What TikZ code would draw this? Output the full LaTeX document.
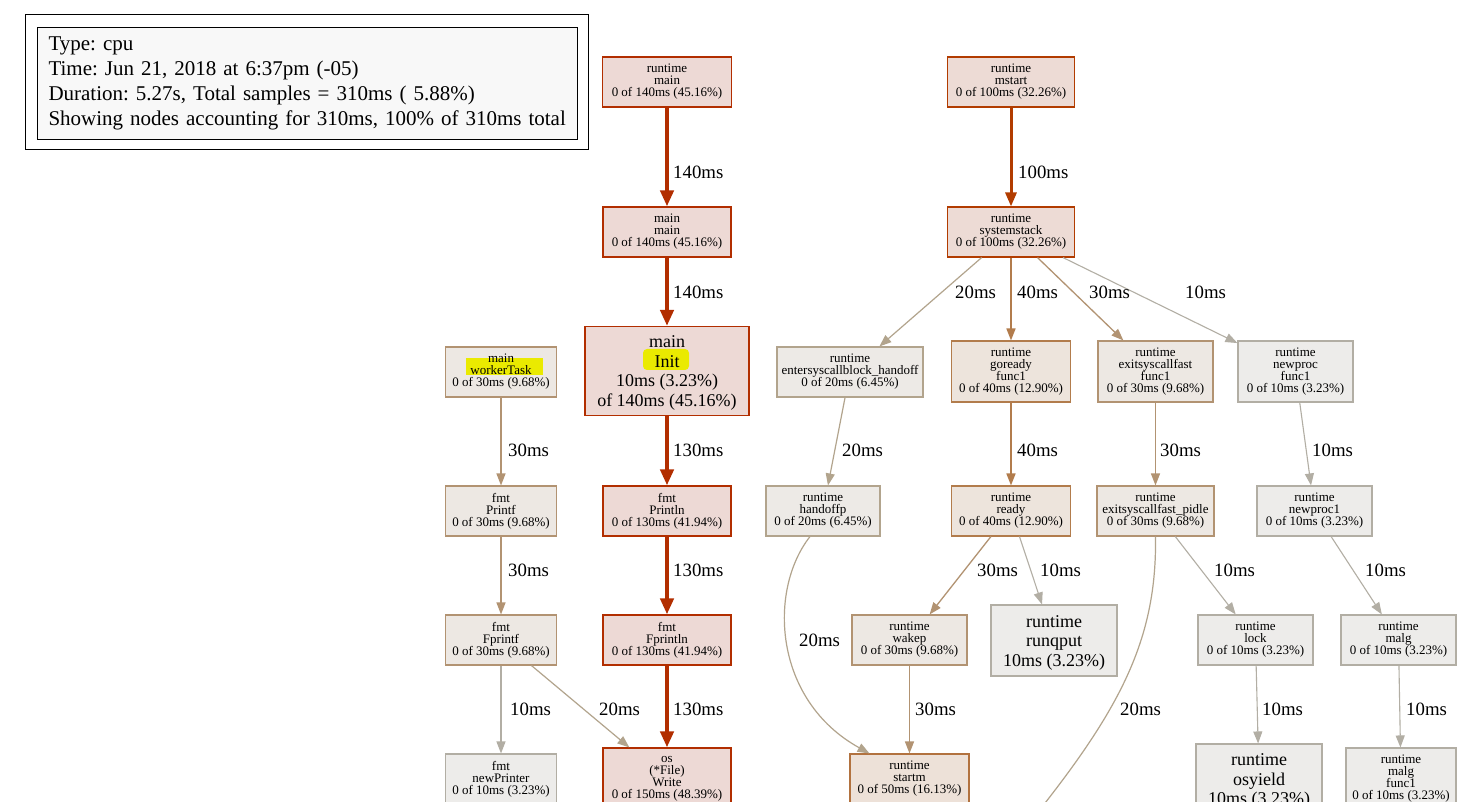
\documentclass[tikz,border=0pt]{standalone}
\usepackage{fontspec}
\setmainfont{Liberation Serif}
\usetikzlibrary{arrows.meta}
\frenchspacing
\definecolor{fA}{HTML}{EDD9D5}\definecolor{bA}{HTML}{B22E00}
\definecolor{fB}{HTML}{EDDBD5}\definecolor{bB}{HTML}{B23C00}
\definecolor{fS}{HTML}{EDE1D8}\definecolor{bS}{HTML}{B2723F}
\definecolor{fG}{HTML}{EDE4DC}\definecolor{bG}{HTML}{B27C4C}
\definecolor{fC}{HTML}{EDE8E3}\definecolor{bC}{HTML}{B29372}
\definecolor{fD}{HTML}{EDEAE6}\definecolor{bD}{HTML}{B2A48D}
\definecolor{fE}{HTML}{EDECEA}\definecolor{bE}{HTML}{B2AEA4}
\definecolor{hl}{HTML}{EAEA00}
\definecolor{lgfill}{HTML}{F8F8F8}
\newcommand{\topstrut}{\rule{0pt}{16pt}}
\tikzset{
  nd/.style={draw, rectangle, inner sep=0pt, align=center, line width=1.1pt,
    font=\fontsize{13}{12}\selectfont},
  bigtxt/.style={font=\fontsize{18}{19.5}\selectfont},
  sz/.style 2 args={minimum width=#1pt, minimum height=#2pt},
  cA/.style={fill=fA, draw=bA}, cB/.style={fill=fB, draw=bB},
  cS/.style={fill=fS, draw=bS}, cG/.style={fill=fG, draw=bG},
  cC/.style={fill=fC, draw=bC}, cD/.style={fill=fD, draw=bD},
  cE/.style={fill=fE, draw=bE},
  lbl/.style={anchor=west, inner sep=0pt, font=\fontsize{18.8}{18.8}\selectfont},
  thin/.style={-{Triangle[length=12pt,width=9pt]}},
  eA/.style={draw=bA, line width=4pt, -{Triangle[length=16pt,width=13pt]}},
  eB/.style={draw=bB, line width=3pt, -{Triangle[length=14pt,width=11pt]}},
  e40/.style={thin, draw=bG, line width=1.6pt},
  e30/.style={thin, draw=bC, line width=1.3pt},
  e20/.style={thin, draw=bD, line width=1.2pt},
  e10/.style={thin, draw=bE, line width=1.1pt},
}
\begin{document}
\begin{tikzpicture}[x=1pt,y=-1pt]
\useasboundingbox (0,0) rectangle (1476,802);
\clip (0,0) rectangle (1476,802);
\fill[white] (0,0) rectangle (1476,802);

% legend
\node[draw=black, fill=lgfill, line width=1pt, anchor=north west, minimum width=540pt,
  minimum height=112pt, text width=518pt, align=left, inner xsep=11pt, inner ysep=0pt,
  font=\fontsize{21}{25}\selectfont] (legend) at (37,27)
  {\mbox{Type: cpu}\\\mbox{Time: Jun 21, 2018 at 6:37pm (-05)}\\\mbox{Duration: 5.27s, Total samples = 310ms ( 5.88\%)}\\\mbox{Showing nodes accounting for 310ms, 100\% of 310ms total}};
\draw[line width=1pt] ([shift={(-12pt,12pt)}]legend.north west) rectangle ([shift={(10pt,-10pt)}]legend.south east);

% nodes
\node[nd,cA,sz={129}{50}] (rtmain) at (667,82) {runtime\\main\\0 of 140ms (45.16\%)};
\node[nd,cB,sz={127}{50}] (mstart) at (1011,82) {runtime\\mstart\\0 of 100ms (32.26\%)};
\node[nd,cA,sz={128}{50}] (mainmain) at (667,232) {main\\main\\0 of 140ms (45.16\%)};
\node[nd,cB,sz={127}{50}] (sysstack) at (1011,232) {runtime\\systemstack\\0 of 100ms (32.26\%)};
\node[nd,cA,bigtxt,sz={164}{89},
  path picture={\fill[hl, rounded corners=4pt] ([shift={(-24pt,1pt)}]path picture bounding box.center) rectangle ([shift={(22pt,22pt)}]path picture bounding box.center);}]
  (init) at (667,371) {\topstrut main\\Init\\10ms (3.23\%)\\of 140ms (45.16\%)};
\node[nd,cC,sz={111}{50},
  path picture={\fill[hl] ([shift={(-35pt,-3pt)}]path picture bounding box.center) rectangle ([shift={(42pt,14pt)}]path picture bounding box.center);}]
  (worker) at (501,372) {main\\workerTask\\0 of 30ms (9.68\%)};
\node[nd,cD,sz={146}{50}] (enters) at (850,372) {runtime\\entersyscallblock\_handoff\\0 of 20ms (6.45\%)};
\node[nd,cG,sz={119}{61}] (goready) at (1011,371.5) {runtime\\goready\\func1\\0 of 40ms (12.90\%)};
\node[nd,cC,sz={115}{61}] (exitfast) at (1155.5,371.5) {runtime\\exitsyscallfast\\func1\\0 of 30ms (9.68\%)};
\node[nd,cE,sz={115}{61}] (newprocf) at (1295.5,371.5) {runtime\\newproc\\func1\\0 of 10ms (3.23\%)};
\node[nd,cC,sz={111}{50}] (printf) at (501,511) {fmt\\Printf\\0 of 30ms (9.68\%)};
\node[nd,cA,sz={128}{50}] (println) at (667,511) {fmt\\Println\\0 of 130ms (41.94\%)};
\node[nd,cD,sz={114}{50}] (handoffp) at (823,511) {runtime\\handoffp\\0 of 20ms (6.45\%)};
\node[nd,cG,sz={119}{50}] (ready) at (1011,511) {runtime\\ready\\0 of 40ms (12.90\%)};
\node[nd,cC,sz={117}{50}] (pidle) at (1155.5,511) {runtime\\exitsyscallfast\_pidle\\0 of 30ms (9.68\%)};
\node[nd,cE,sz={115}{50}] (newproc1) at (1314.5,511) {runtime\\newproc1\\0 of 10ms (3.23\%)};
\node[nd,cC,sz={111}{50}] (fprintf) at (501,640) {fmt\\Fprintf\\0 of 30ms (9.68\%)};
\node[nd,cA,sz={128}{50}] (fprintln) at (667,640) {fmt\\Fprintln\\0 of 130ms (41.94\%)};
\node[nd,cC,sz={115}{50}] (wakep) at (909.5,640) {runtime\\wakep\\0 of 30ms (9.68\%)};
\node[nd,cE,bigtxt,sz={126}{71}] (runqput) at (1054,640.5) {\topstrut runtime\\runqput\\10ms (3.23\%)};
\node[nd,cE,sz={115}{50}] (lock) at (1255.5,640) {runtime\\lock\\0 of 10ms (3.23\%)};
\node[nd,cE,sz={115}{50}] (malg) at (1398.5,640) {runtime\\malg\\0 of 10ms (3.23\%)};
\node[nd,cE,sz={111}{50}] (newprinter) at (501,779) {fmt\\newPrinter\\0 of 10ms (3.23\%)};
\node[nd,cA,sz={128}{62}] (write) at (667,779) {os\\(*File)\\Write\\0 of 150ms (48.39\%)};
\node[nd,cS,sz={119}{50}] (startm) at (909.5,779) {runtime\\startm\\0 of 50ms (16.13\%)};
\node[nd,cE,bigtxt,sz={126}{70}] (osyield) at (1259,779) {\topstrut runtime\\osyield\\10ms (3.23\%)};
\node[nd,cE,sz={110}{62}] (malgf) at (1401,779) {runtime\\malg\\func1\\0 of 10ms (3.23\%)};
\coordinate (offA) at (1030,822);

% edges
\draw[eA] (rtmain) -- (mainmain);
\draw[eA] (mainmain) -- (init);
\draw[eA] (init) -- (println);
\draw[eA] (println) -- (fprintln);
\draw[eA] (fprintln) -- (write);
\draw[eB] (mstart) -- (sysstack);
\draw[e20] (sysstack) -- (enters);
\draw[e40] (sysstack) -- (goready);
\draw[e30] (sysstack) -- (exitfast);
\draw[e10] (sysstack) -- (newprocf);
\draw[e30] (worker) -- (printf);
\draw[e30] (printf) -- (fprintf);
\draw[e10] (fprintf) -- (newprinter);
\draw[e20] (fprintf) -- (write);
\draw[e20] (enters) -- (handoffp);
\draw[e20] ([xshift=-13pt]handoffp.south) .. controls (768,590) and (773,700) .. ([xshift=-40pt]startm.north);
\draw[e40] (goready) -- (ready);
\draw[e30] (ready) -- (wakep);
\draw[e10] (ready) -- (runqput);
\draw[e30] (wakep) -- (startm);
\draw[e30] (exitfast) -- (pidle);
\draw[e10] (pidle) -- (lock);
\draw[draw=bD, line width=1.2pt] (pidle.south) .. controls (1157,640) and (1120,710) .. (offA);
\draw[e10] (newprocf) -- (newproc1);
\draw[e10] (newproc1) -- (malg);
\draw[e10] (lock) -- (osyield);
\draw[e10] (malg) -- (malgf);

% labels
\node[lbl] (l1) at (673,172) {140ms};
\node[lbl] (l2) at (673,292) {140ms};
\node[lbl] (l3) at (673,450) {130ms};
\node[lbl] (l4) at (673,570) {130ms};
\node[lbl] (l5) at (673,709) {130ms};
\node[lbl] (l6) at (1018,172) {100ms};
\node[lbl] (l7) at (955,292) {20ms};
\node[lbl] (l8) at (1017,292) {40ms};
\node[lbl] (l9) at (1089,292) {30ms};
\node[lbl] (l10) at (1185,292) {10ms};
\node[lbl] (l11) at (508,450) {30ms};
\node[lbl] (l12) at (508,570) {30ms};
\node[lbl] (l13) at (510,709) {10ms};
\node[lbl] (l14) at (599,709) {20ms};
\node[lbl] (l15) at (842,450) {20ms};
\node[lbl] (l16) at (1017,450) {40ms};
\node[lbl] (l17) at (1160,450) {30ms};
\node[lbl] (l18) at (1312,450) {10ms};
\node[lbl] (l19) at (977,570) {30ms};
\node[lbl] (l20) at (1040,570) {10ms};
\node[lbl] (l21) at (1214,570) {10ms};
\node[lbl] (l22) at (1365,570) {10ms};
\node[lbl] (l23) at (799,640) {20ms};
\node[lbl] (l24) at (915,709) {30ms};
\node[lbl] (l25) at (1120,709) {20ms};
\node[lbl] (l26) at (1262,709) {10ms};
\node[lbl] (l27) at (1406,709) {10ms};
\end{tikzpicture}
\end{document}
